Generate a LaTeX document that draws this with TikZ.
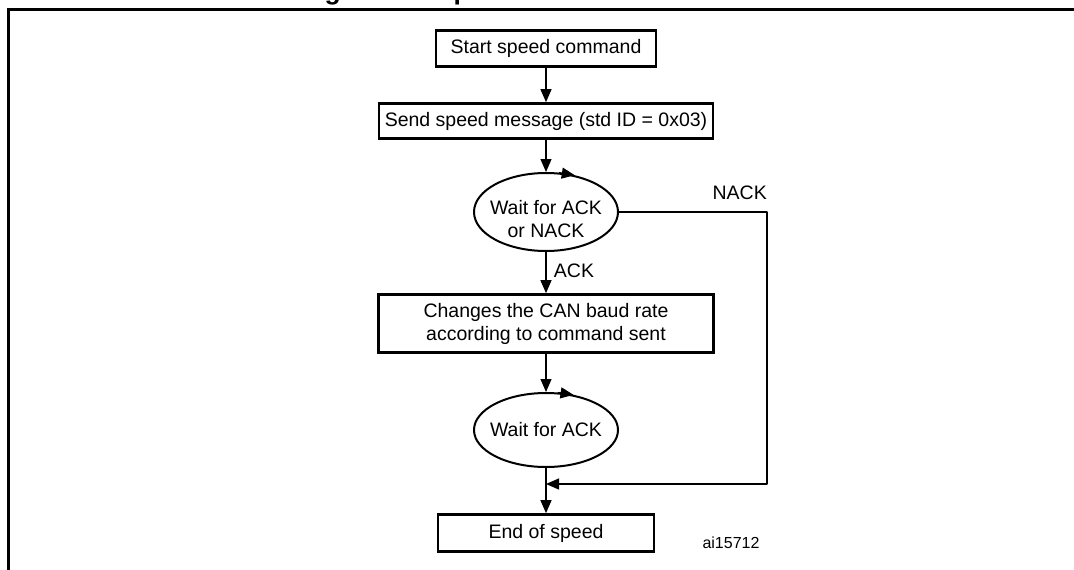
\documentclass[tikz,border=0pt]{standalone}
\usepackage{fontspec}
\setmainfont{Liberation Sans}
\usetikzlibrary{positioning,shapes.geometric,arrows.meta}

\begin{document}
\begin{tikzpicture}[x=1pt, y=-1pt, font=\fontsize{19.5}{23}\selectfont,
                    c/.style={line width=1.3pt, line join=round},
                    arr/.style={c, -{Triangle[length=13pt, width=11pt]}},
                    stepbox/.style={draw, line width=2.7pt, inner sep=0pt, align=center},
                    wait/.style={draw, ellipse, line width=2pt, inner xsep=-12pt, inner ysep=-6pt,
                                 minimum width=144pt, minimum height=78pt, align=center},
                    frame/.style={line width=3.3pt}]
  \path[use as bounding box, clip] (0,0) rectangle (1074,570);
  \node[anchor=base, font=\fontsize{26.5}{30}\selectfont\bfseries] (title) at (542,0) {Figure 70. Speed command: host side};
  \draw[frame] (8.3,600) |- (1100,9.8);
  \node[stepbox, minimum width=220pt, minimum height=36pt] (start) at (546,48.5) {Start speed command};
  \node[stepbox, minimum width=334pt, minimum height=35pt] (send) at (546,121) {Send speed message (std ID = 0x03)};
  \node[wait] (wack1) at (546,212) {\rule{0pt}{28pt}Wait for ACK\\or NACK};
  \node[stepbox, minimum width=335pt, minimum height=58pt] (chg) at (546,323.5) {Changes the CAN baud rate\\according to command sent};
  \node[wait, minimum height=74pt] (wack2) at (546,430) {Wait for ACK};
  \node[stepbox, minimum width=216pt, minimum height=37pt] (fin) at (546,533) {End of speed};
  \node[font=\fontsize{16}{19}\selectfont] (figid) at (731,543) {ai15712};
  \draw[arr] (start) -- (send);
  \draw[arr] (send) -- (wack1);
  \draw[arr] (wack1) -- node[anchor=west, pos=.45, xshift=4pt] (ackl) {ACK} (chg);
  \draw[arr] (chg) -- (wack2);
  \draw[arr] (wack2) -- (fin);
  % NACK branch
  \coordinate (merge) at (546,484);
  \coordinate (nackx) at (767,212);
  \draw[arr] (wack1.east) -- (nackx) |- (merge);
  \node[anchor=south east, inner sep=0pt, yshift=12pt] (nackl) at (nackx) {NACK};
  \draw[arr] (wack1.72) -- (wack1.52);
  \draw[arr] (wack2.72) -- (wack2.52);
\end{tikzpicture}
\end{document}
